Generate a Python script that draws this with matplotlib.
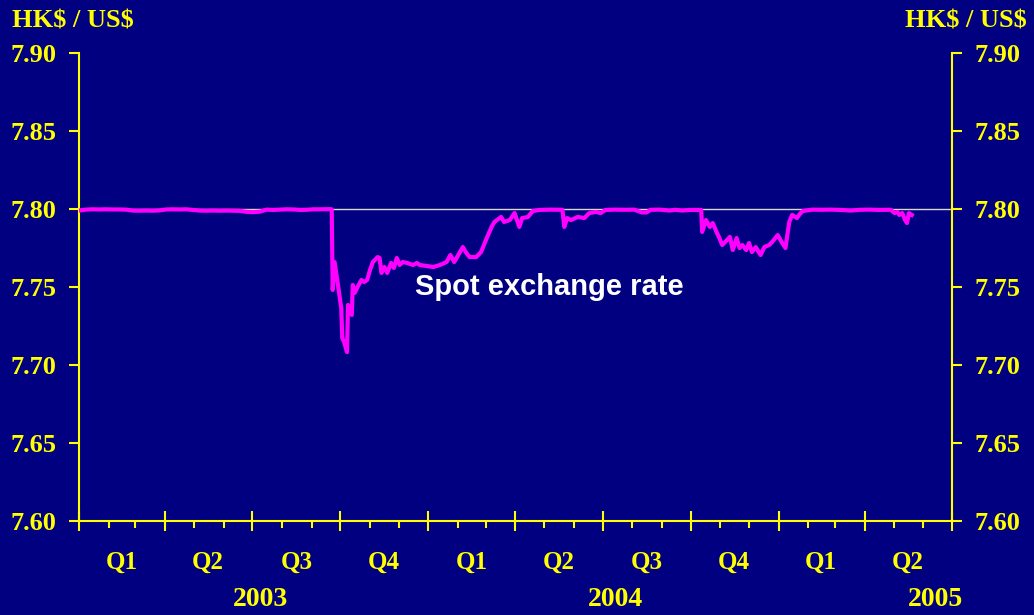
import matplotlib
matplotlib.use("Agg")
import matplotlib.pyplot as plt
import matplotlib.dates as mdates
import matplotlib.transforms as mtransforms
import pandas as pd

# ---------------- data ----------------
dates = [
    "2003-01-01", "2003-01-08", "2003-01-15", "2003-01-22", "2003-01-29",
    "2003-02-05", "2003-02-12", "2003-02-19", "2003-02-26", "2003-03-05",
    "2003-03-12", "2003-03-19", "2003-03-26", "2003-04-02", "2003-04-09",
    "2003-04-16", "2003-04-23", "2003-04-30", "2003-05-07", "2003-05-14",
    "2003-05-21", "2003-05-28", "2003-06-04", "2003-06-11", "2003-06-18",
    "2003-06-25", "2003-07-02", "2003-07-09", "2003-07-16", "2003-07-23",
    "2003-07-30", "2003-08-06", "2003-08-13", "2003-08-20", "2003-08-27",
    "2003-09-03", "2003-09-10", "2003-09-17", "2003-09-20", "2003-09-22",
    "2003-09-23", "2003-09-25", "2003-09-27", "2003-09-29", "2003-10-01",
    "2003-10-02", "2003-10-03", "2003-10-05", "2003-10-08", "2003-10-09",
    "2003-10-11", "2003-10-13", "2003-10-14", "2003-10-16", "2003-10-19",
    "2003-10-23", "2003-10-26", "2003-10-29", "2003-11-01", "2003-11-04",
    "2003-11-09", "2003-11-11", "2003-11-13", "2003-11-16", "2003-11-19",
    "2003-11-23", "2003-11-26", "2003-11-29", "2003-12-02", "2003-12-05",
    "2003-12-10", "2003-12-16", "2003-12-20", "2003-12-23", "2003-12-30",
    "2004-01-06", "2004-01-13", "2004-01-20", "2004-01-24", "2004-01-28",
    "2004-02-06", "2004-02-09", "2004-02-13", "2004-02-20", "2004-02-25",
    "2004-03-02", "2004-03-07", "2004-03-10", "2004-03-17", "2004-03-20",
    "2004-03-26", "2004-03-31", "2004-04-05", "2004-04-08", "2004-04-14",
    "2004-04-19", "2004-04-26", "2004-05-07", "2004-05-20", "2004-05-22",
    "2004-05-25", "2004-05-29", "2004-06-05", "2004-06-12", "2004-06-17",
    "2004-06-24", "2004-06-29", "2004-07-04", "2004-07-14", "2004-07-24",
    "2004-08-03", "2004-08-11", "2004-08-16", "2004-08-20", "2004-08-30",
    "2004-09-09", "2004-09-15", "2004-09-22", "2004-09-30", "2004-10-12",
    "2004-10-13", "2004-10-17", "2004-10-21", "2004-10-24", "2004-10-28",
    "2004-10-31", "2004-11-03", "2004-11-08", "2004-11-11", "2004-11-14",
    "2004-11-18", "2004-11-21", "2004-11-24", "2004-11-28", "2004-12-01",
    "2004-12-04", "2004-12-08", "2004-12-13", "2004-12-17", "2004-12-22",
    "2004-12-25", "2004-12-31", "2005-01-04", "2005-01-08", "2005-01-12",
    "2005-01-15", "2005-01-20", "2005-01-23", "2005-01-26", "2005-02-05",
    "2005-02-15", "2005-02-25", "2005-03-07", "2005-03-17", "2005-03-27",
    "2005-04-06", "2005-04-16", "2005-04-28", "2005-05-02", "2005-05-05",
    "2005-05-07", "2005-05-10", "2005-05-13", "2005-05-15", "2005-05-17",
    "2005-05-20",
]
spot_rate = [
    7.7990, 7.7996, 7.7998, 7.7997, 7.7998,
    7.7997, 7.7997, 7.7996, 7.7990, 7.7989,
    7.7990, 7.7989, 7.7991, 7.7997, 7.7998,
    7.7997, 7.7998, 7.7994, 7.7990, 7.7989,
    7.7990, 7.7989, 7.7990, 7.7989, 7.7988,
    7.7982, 7.7980, 7.7983, 7.7996, 7.7994,
    7.7996, 7.7998, 7.7997, 7.7994, 7.7995,
    7.7998, 7.7998, 7.7999, 7.7999, 7.7998,
    7.7481, 7.7660, 7.7577, 7.7494, 7.7404,
    7.7365, 7.7173, 7.7147, 7.7083, 7.7385,
    7.7353, 7.7321, 7.7513, 7.7462, 7.7500,
    7.7545, 7.7532, 7.7545, 7.7609, 7.7660,
    7.7692, 7.7686, 7.7590, 7.7628, 7.7590,
    7.7654, 7.7622, 7.7686, 7.7641, 7.7660,
    7.7654, 7.7641, 7.7654, 7.7641, 7.7635,
    7.7628, 7.7641, 7.7660, 7.7705, 7.7660,
    7.7756, 7.7724, 7.7692, 7.7692, 7.7724,
    7.7814, 7.7885, 7.7917, 7.7949, 7.7917,
    7.7929, 7.7974, 7.7885, 7.7942, 7.7949,
    7.7987, 7.7994, 7.7996, 7.7995, 7.7885,
    7.7942, 7.7929, 7.7949, 7.7942, 7.7974,
    7.7981, 7.7974, 7.7994, 7.7996, 7.7995,
    7.7996, 7.7978, 7.7978, 7.7995, 7.7996,
    7.7990, 7.7995, 7.7990, 7.7994, 7.7994,
    7.7853, 7.7929, 7.7885, 7.7910, 7.7853,
    7.7814, 7.7769, 7.7801, 7.7821, 7.7737,
    7.7814, 7.7750, 7.7769, 7.7737, 7.7782,
    7.7724, 7.7756, 7.7705, 7.7756, 7.7769,
    7.7788, 7.7833, 7.7788, 7.7750, 7.7917,
    7.7962, 7.7942, 7.7968, 7.7987, 7.7996,
    7.7995, 7.7996, 7.7994, 7.7990, 7.7995,
    7.7996, 7.7994, 7.7995, 7.7974, 7.7981,
    7.7962, 7.7974, 7.7929, 7.7910, 7.7974,
    7.7962,
]
reference_level = 7.80
y_ticks = [7.60, 7.65, 7.70, 7.75, 7.80, 7.85, 7.90]
quarter_labels = ["Q1", "Q2", "Q3", "Q4", "Q1", "Q2", "Q3", "Q4", "Q1", "Q2"]
quarter_mid_dates = ["2003-02-15", "2003-05-16", "2003-08-16", "2003-11-15",
                     "2004-02-15", "2004-05-16", "2004-08-16", "2004-11-15",
                     "2005-02-14", "2005-05-16"]
year_labels = ["2003", "2004", "2005"]
year_label_dates = ["2003-07-10", "2004-07-14", "2005-06-14"]
unit_label = "HK\\$ / US\\$"

# ---------------- style ----------------
NAVY = "#000080"
YEL = "#FFFF00"
SERIF = ["Liberation Serif", "DejaVu Serif"]

fig = plt.figure(figsize=(10.34, 6.15), dpi=100, facecolor=NAVY)
ax = fig.add_axes([79 / 1034, 1 - 521 / 615, (952 - 79) / 1034, (521 - 53) / 615])
ax.set_facecolor(NAVY)

x = pd.to_datetime(dates)
ax.axhline(reference_level, color="#D8D8D8", lw=1.0, zorder=2)
ax.plot(x, spot_rate, color="#FF00FF", lw=3.0, solid_joinstyle="round", zorder=3)

ax.set_xlim(pd.Timestamp("2003-01-01"), pd.Timestamp("2005-07-01"))
ax.set_ylim(7.60, 7.90)

# spines
for s in ["left", "right", "bottom"]:
    ax.spines[s].set_color(YEL)
    ax.spines[s].set_linewidth(1.5)
ax.spines["top"].set_visible(False)

# y axis (both sides)
ax.set_yticks(y_ticks)
ax.set_yticklabels([f"{v:.2f}" for v in y_ticks])
ax.tick_params(axis="y", which="major", direction="out", length=7, width=1.5,
               color=YEL, labelcolor=YEL, labelsize=19, pad=9,
               left=True, right=True, labelleft=True, labelright=True)
for lab in ax.get_yticklabels():
    lab.set_fontfamily(SERIF)
    lab.set_fontweight("bold")

# x axis ticks
ax.xaxis.set_major_locator(mdates.MonthLocator(bymonth=[1, 4, 7, 10]))
ax.xaxis.set_minor_locator(mdates.MonthLocator())
ax.tick_params(axis="x", which="major", direction="inout", length=14, width=1.5,
               color=YEL, labelbottom=False)
ax.tick_params(axis="x", which="minor", direction="out", length=5, width=1.5,
               color=YEL, labelbottom=False)

trans = mtransforms.blended_transform_factory(ax.transData, ax.transAxes)
for lab, d in zip(quarter_labels, quarter_mid_dates):
    ax.text(pd.Timestamp(d), -0.089, lab, transform=trans, ha="center", va="center",
            color=YEL, fontsize=18, fontweight="bold", family=SERIF, clip_on=False)
for lab, d in zip(year_labels, year_label_dates):
    ax.text(pd.Timestamp(d), -0.168, lab, transform=trans, ha="center", va="center",
            color=YEL, fontsize=20, fontweight="bold", family=SERIF, clip_on=False)

# axis unit titles
fig.text(12 / 1034, 1 - 21 / 615, unit_label, ha="left", va="center", color=YEL,
         fontsize=19, fontweight="bold", family=SERIF)
fig.text(1027 / 1034, 1 - 21 / 615, unit_label, ha="right", va="center", color=YEL,
         fontsize=19, fontweight="bold", family=SERIF)

# series label
ax.text(pd.Timestamp("2004-05-06"), 7.750, "Spot exchange rate", ha="center", va="center",
        color="white", fontsize=21, fontweight="bold",
        family=["Liberation Sans", "DejaVu Sans"])

fig.savefig("out.png", dpi=100, facecolor=NAVY)
